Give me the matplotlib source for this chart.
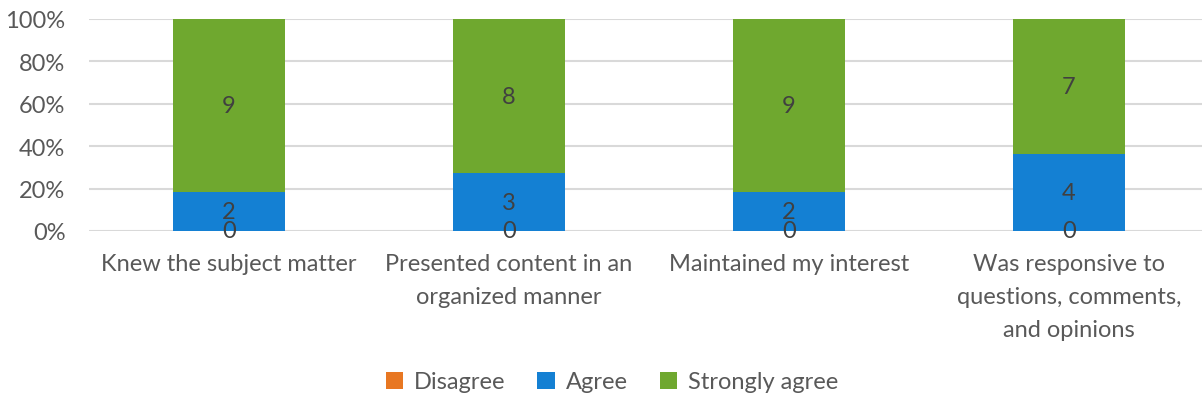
import numpy as np
import matplotlib.pyplot as plt
from matplotlib.ticker import PercentFormatter

plt.rcParams['font.family'] = ['Lato', 'DejaVu Sans']

categories = ["Knew the subject matter",
              "Presented content in an\norganized manner",
              "Maintained my interest",
              "Was responsive to\nquestions, comments,\nand opinions"]
disagree = [0, 0, 0, 0]
agree = [2, 3, 2, 4]
strongly_agree = [9, 8, 9, 7]

series = [("Disagree", disagree, "#E87722"),
          ("Agree", agree, "#1480D3"),
          ("Strongly agree", strongly_agree, "#6FA82F")]

totals = np.array(disagree) + np.array(agree) + np.array(strongly_agree)
x = np.arange(len(categories))

fig = plt.figure(figsize=(12.02, 4.02), dpi=100)
ax = fig.add_axes([89/1202, 1-232/402, 1120/1202, 212/402])

bottom = np.zeros(len(categories))
for name, vals, col in series:
    share = np.array(vals) / totals * 100
    bars = ax.bar(x, share, 0.4, bottom=bottom, color=col, label=name, zorder=2)
    ax.bar_label(bars, labels=[str(v) for v in vals], label_type='center',
                 fontsize=17, color='#404040')
    bottom += share

ax.set_xlim(-0.5, 3.5)
ax.set_ylim(0, 100)
ax.set_yticks(np.arange(0, 101, 20))
ax.yaxis.set_major_formatter(PercentFormatter(decimals=0))
ax.set_xticks(x)
ax.set_xticklabels(categories, linespacing=1.7)
ax.tick_params(axis='both', length=0, labelsize=17, labelcolor='#595959')
ax.tick_params(axis='x', pad=16)
ax.tick_params(axis='y', pad=17)
ax.grid(axis='y', color='#D9D9D9', linewidth=1.5, zorder=0)
for s in ax.spines.values():
    s.set_visible(False)

ax.legend(loc='center', bbox_to_anchor=(612/1202, 1-383/402), bbox_transform=fig.transFigure,
          ncol=3, frameon=False, fontsize=17, handlelength=0.75, handleheight=0.75,
          handletextpad=0.45, columnspacing=1.35, labelcolor='#595959')

fig.savefig("out.png", dpi=100)
